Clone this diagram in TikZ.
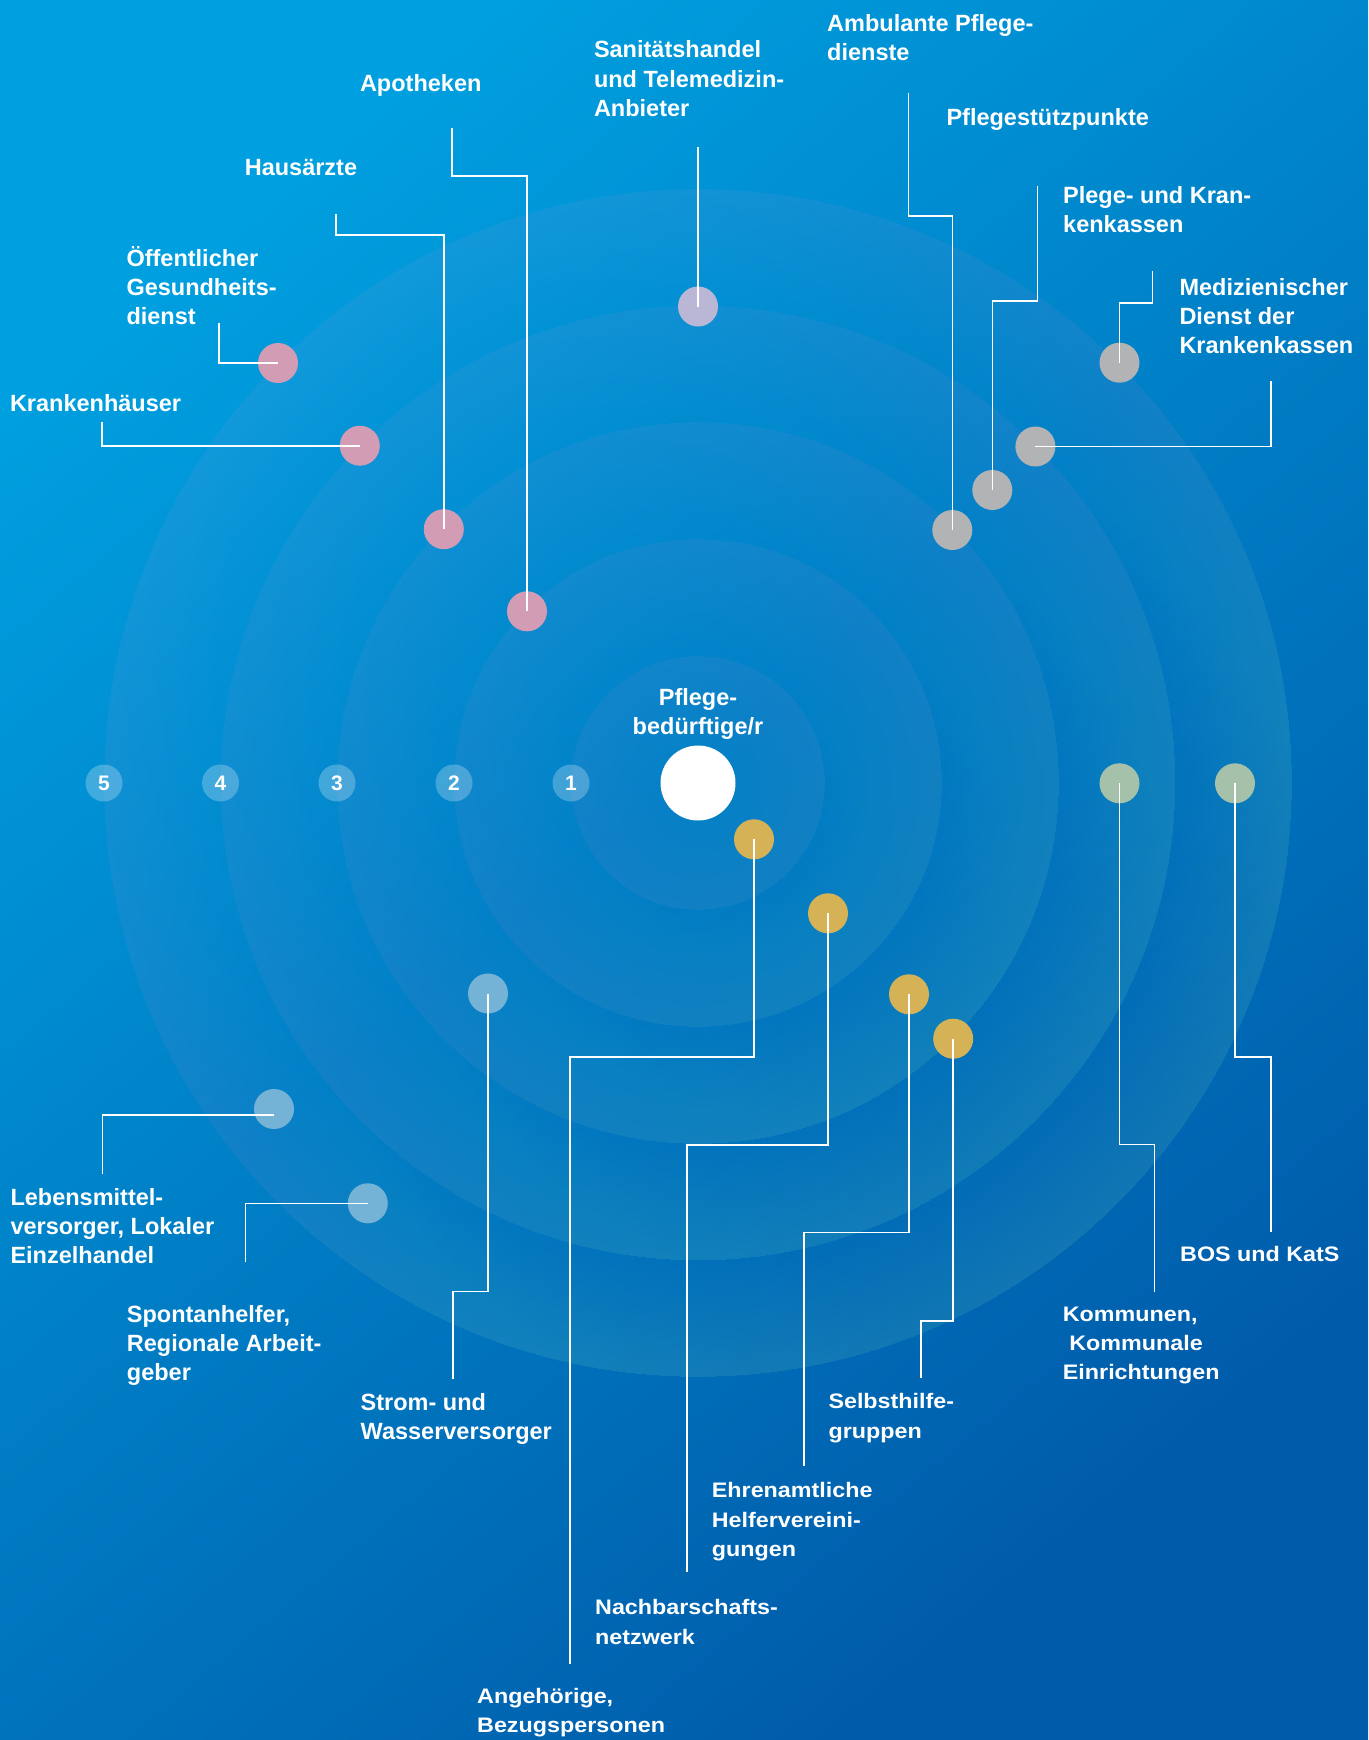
\documentclass[tikz,border=0pt]{standalone}
\usepackage{fontspec}
\setmainfont{Liberation Sans}
\newfontfamily\widefont{Liberation Sans}[FakeStretch=1.11]
\definecolor{bgTL}{HTML}{009FDF}
\definecolor{bgMid}{HTML}{037DC5}
\definecolor{bgBR}{HTML}{005BAA}
\definecolor{pinkdot}{HTML}{D39CB5}
\definecolor{lavdot}{HTML}{B9B6D6}
\definecolor{graydot}{HTML}{B2B3B5}
\definecolor{greendot}{HTML}{A6C1A9}
\definecolor{golddot}{HTML}{D6B257}
\definecolor{bluedot}{HTML}{74B3D6}
\tikzset{
  dot/.style={circle, minimum size=40pt, inner sep=0pt, draw=none},
  ringmark/.style={circle, minimum size=37pt, inner sep=0pt, fill=white, fill opacity=0.25, text opacity=1, text=white, font=\fontsize{21}{25}\selectfont\bfseries},
  lab/.style={anchor=north west, inner sep=0pt, align=left, text=white, font=\fontsize{23.5}{29}\selectfont\bfseries},
  labw/.style={anchor=north west, inner sep=0pt, align=left, text=white, font=\widefont\fontsize{21}{#1}\selectfont\bfseries},
  conn/.style={draw=white, line width=1.6pt},
  bandstep/.style={fill=white, fill opacity=0.0095, even odd rule}
}
\begin{document}
\begin{tikzpicture}[x=1pt,y=-1pt]
\useasboundingbox (0,0) rectangle (1368,1740);
\shade[top color=bgTL, middle color=bgMid, bottom color=bgBR, shading angle=40] (0,0) rectangle (1368,1740);
\coordinate (C) at (698,783);
% rings: each band lighter towards its outer edge
\foreach \rin/\rout in {0/127, 127/244, 244/361, 361/477.5, 477.5/594} {
  \foreach \i in {0,...,15} {
    \pgfmathsetmacro\rr{\rin + (\rout-\rin)*\i/16}
    \fill[bandstep] (C) circle[radius=\rout pt] (C) circle[radius=\rr pt];
  }
}
% ring markers
\node[ringmark] (m5) at (104,783) {5};
\node[ringmark] (m4) at (220.5,783) {4};
\node[ringmark] (m3) at (337,783) {3};
\node[ringmark] (m2) at (454,783) {2};
\node[ringmark] (m1) at (571,783) {1};
% centre
\node[circle, fill=white, minimum size=75pt, inner sep=0pt] (pat) at (C) {};
\node[anchor=north, inner sep=0pt, align=center, text=white, font=\fontsize{23.5}{29}\selectfont\bfseries] (lPat) at (698,684.9) {\strut Pflege-\\\strut bedürftige/r};
% dots
\node[dot, fill=pinkdot] (dOeff) at (278,363) {};
\node[dot, fill=pinkdot] (dKh) at (359.8,445.7) {};
\node[dot, fill=pinkdot] (dHaus) at (443.8,529.2) {};
\node[dot, fill=pinkdot] (dApo) at (527,611.3) {};
\node[dot, fill=lavdot] (dSan) at (698,306.5) {};
\node[dot, fill=graydot] (dAmb) at (952.3,530) {};
\node[dot, fill=graydot] (dPlg) at (992.3,490) {};
\node[dot, fill=graydot] (dMd2) at (1035.4,446.5) {};
\node[dot, fill=graydot] (dMd1) at (1119.5,362.7) {};
\node[dot, fill=greendot] (dGr1) at (1119.5,783.3) {};
\node[dot, fill=greendot] (dGr2) at (1235,783.3) {};
\node[dot, fill=golddot] (dG1) at (754,839.3) {};
\node[dot, fill=golddot] (dG2) at (828,913.3) {};
\node[dot, fill=golddot] (dG3) at (909,994.3) {};
\node[dot, fill=golddot] (dG4) at (953.2,1038.7) {};
\node[dot, fill=bluedot] (dStr) at (488,993.5) {};
\node[dot, fill=bluedot] (dLeb) at (274,1109) {};
\node[dot, fill=bluedot] (dSpo) at (367.8,1203.3) {};
% labels
\node[lab] (lApo) at (359.8,71.4) {\strut Apotheken};
\node[lab, font=\fontsize{23.5}{29.5}\selectfont\bfseries] (lSan) at (593.8,36.8) {\strut Sanitätshandel\\\strut und Telemedizin-\\\strut Anbieter};
\node[lab] (lAmb) at (827,11.1) {\strut Ambulante Pflege-\\\strut dienste};
\node[lab] (lPsp) at (946.3,105.1) {\strut Pflegestützpunkte};
\node[lab] (lHaus) at (244.6,154.8) {\strut Hausärzte};
\node[lab] (lOeff) at (126.3,245.8) {\strut Öffentlicher\\\strut Gesundheits-\\\strut dienst};
\node[lab] (lPlg) at (1063,183.1) {\strut Plege- und Kran-\\\strut kenkassen};
\node[lab] (lMd) at (1179.3,274.8) {\strut Medizienischer\\\strut Dienst der\\\strut Krankenkassen};
\node[lab] (lKh) at (9.8,391.4) {\strut Krankenhäuser};
\node[lab] (lLeb) at (10.3,1184.8) {\strut Lebensmittel-\\\strut versorger, Lokaler\\\strut Einzelhandel};
\node[lab] (lSpo) at (126.7,1302.1) {\strut Spontanhelfer,\\\strut Regionale Arbeit-\\\strut geber};
\node[lab] (lStr) at (360.5,1389.8) {\strut Strom- und\\\strut Wasserversorger};
\node[labw=29] (lBOS) at (1180,1240.8) {\strut BOS und KatS};
\node[labw=29] (lKom) at (1062.7,1301) {\strut Kommunen,\\\strut \ Kommunale\\\strut Einrichtungen};
\node[labw=29.5] (lSelb) at (828.3,1388) {\strut Selbsthilfe-\\\strut gruppen};
\node[labw=29.5] (lEhr) at (711.7,1476.7) {\strut Ehrenamtliche\\\strut Helfervereini-\\\strut gungen};
\node[labw=30] (lNach) at (595,1593) {\strut Nachbarschafts-\\\strut netzwerk};
\node[labw=29] (lAng) at (477,1682.5) {\strut Angehörige,\\\strut Bezugspersonen};
% free ends of connectors
\coordinate (eApo) at (452.2,128.3);
\coordinate (eSan) at (698,146.7);
\coordinate (eAmb) at (908.6,92.7);
\coordinate (ePlg) at (1037.6,185.7);
\coordinate (eMd1) at (1152.6,271);
\coordinate (eMd2) at (1271,381);
\coordinate (eHaus) at (335.7,214);
\coordinate (eOeff) at (219.2,322.7);
\coordinate (eKh) at (102.2,422.3);
\coordinate (eLeb) at (102.6,1174);
\coordinate (eSpo) at (245.3,1261.7);
\coordinate (eStr) at (453.1,1379.3);
\coordinate (eAng) at (570,1663.7);
\coordinate (eNach) at (687,1572.3);
\coordinate (eEhr) at (803.7,1466);
\coordinate (eSelb) at (920.7,1377.7);
\coordinate (eKom) at (1154.3,1291.5);
\coordinate (eBOS) at (1271,1232);
% connectors
\draw[conn] (dApo.center) |- (452.2,175.7) -- (eApo);
\draw[conn] (dSan.center) -- (eSan);
\draw[conn] (dAmb.center) |- (908.6,215.7) -- (eAmb);
\draw[conn] (dPlg.center) |- (1037.6,301) -- (ePlg);
\draw[conn] (dMd1.center) |- (1152.6,302.7) -- (eMd1);
\draw[conn] (dMd2.center) -| (eMd2);
\draw[conn] (dHaus.center) |- (335.7,235) -- (eHaus);
\draw[conn] (dOeff.center) -| (eOeff);
\draw[conn] (dKh.center) -| (eKh);
\draw[conn] ([yshift=-6pt]dLeb.center) -| (eLeb);
\draw[conn] (dSpo.center) -| (eSpo);
\draw[conn] (dStr.center) |- (453.1,1291.3) -- (eStr);
\draw[conn] (dG1.center) |- (570,1056.7) -- (eAng);
\draw[conn] (dG2.center) |- (687,1145) -- (eNach);
\draw[conn] (dG3.center) |- (803.7,1232.5) -- (eEhr);
\draw[conn] (dG4.center) |- (920.7,1321) -- (eSelb);
\draw[conn] (dGr1.center) |- (1154.3,1144.6) -- (eKom);
\draw[conn] (dGr2.center) |- (1271,1056.7) -- (eBOS);
\end{tikzpicture}
\end{document}
